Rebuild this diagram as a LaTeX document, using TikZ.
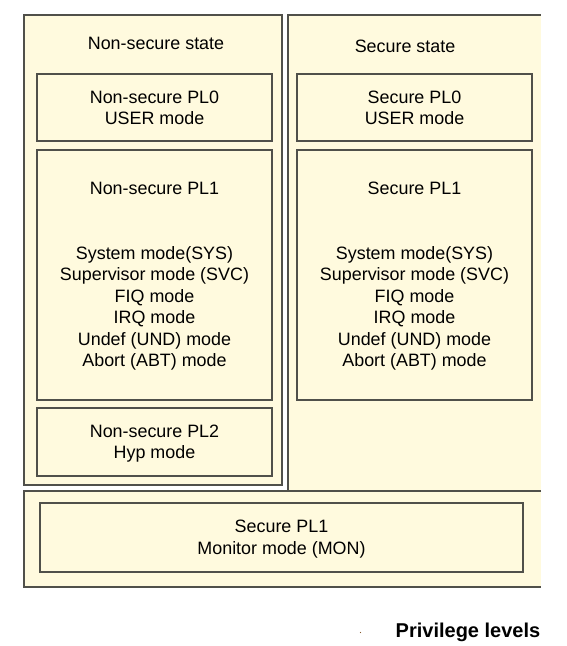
\documentclass[tikz,border=0pt]{standalone}
\usepackage{fontspec}
\setmainfont{Liberation Sans}
\definecolor{bg}{RGB}{255,250,222}
\definecolor{ln}{RGB}{80,80,74}
\begin{document}
\begin{tikzpicture}[x=1pt,y=-1pt,line join=miter,
  box/.style={draw=ln,line width=1.4pt,fill=bg,inner sep=0pt,minimum width=235pt},
  fillonly/.style={fill=bg,draw=none,inner sep=0pt},
  edge/.style={draw=ln,line width=1.6pt},
  txt/.style={anchor=base,inner sep=0pt,font=\fontsize{17.9}{21.5}\selectfont}]
\useasboundingbox (0,0) rectangle (567,646);
% outer regions
\node[fillonly,minimum width=253pt,minimum height=476pt] (sec) at (414.5,253) {};
\node[fillonly,minimum width=517pt,minimum height=96pt] (bot) at (282.5,539) {};
\draw[edge] (sec.south west) -- (sec.north west) -- (sec.north east);
\draw[edge] (bot.north east) -- (bot.north west) -- (bot.south west) -- (bot.south east);
\node[box,line width=1.6pt,minimum width=258pt,minimum height=470pt] (ns) at (153,250) {};
% inner boxes
\node[box,minimum height=67pt] (nspl0) at (154.5,107.5) {};
\node[box,minimum height=250pt] (nspl1) at (154.5,275) {};
\node[box,minimum height=68pt] (nspl2) at (154.5,442) {};
\node[box,minimum height=67pt] (spl0) at (414.5,107.5) {};
\node[box,minimum height=250pt] (spl1) at (414.5,275) {};
\node[box,minimum width=483pt,minimum height=69pt] (mon) at (281.5,537.5) {};
% texts
\node[txt] (tns) at (156,49.5) {Non-secure state};
\node[txt] (ts) at (405,52.5) {Secure state};
\node[txt] (a1) at (154.5,103.5) {Non-secure PL0};
\node[txt] (a2) at (154.5,124.5) {USER mode};
\node[txt] (b1) at (414.5,103.5) {Secure PL0};
\node[txt] (b2) at (414.5,124.5) {USER mode};
\node[txt] (c0) at (154.5,194.5) {Non-secure PL1};
\node[txt] (d0) at (414.5,194.5) {Secure PL1};
\foreach \t [count=\i] in {System mode(SYS),Supervisor mode (SVC),FIQ mode,IRQ mode,Undef (UND) mode,Abort (ABT) mode}{
  \node[txt] (cm\i) at (154.5,{259.5+21.4*(\i-1)}) {\t};
  \node[txt] (dm\i) at (414.5,{259.5+21.4*(\i-1)}) {\t};
}
\node[txt] (e1) at (154.5,437.5) {Non-secure PL2};
\node[txt] (e2) at (154.5,458.5) {Hyp mode};
\node[txt] (f1) at (281.5,532.5) {Secure PL1};
\node[txt] (f2) at (281.5,554.5) {Monitor mode (MON)};
\node[anchor=base,inner sep=0pt,font=\fontsize{20}{24}\selectfont\bfseries] (pl) at (468,637) {Privilege levels};
\fill[brown!70!black] (360.5,632.5) circle (0.6pt);
\end{tikzpicture}
\end{document}
